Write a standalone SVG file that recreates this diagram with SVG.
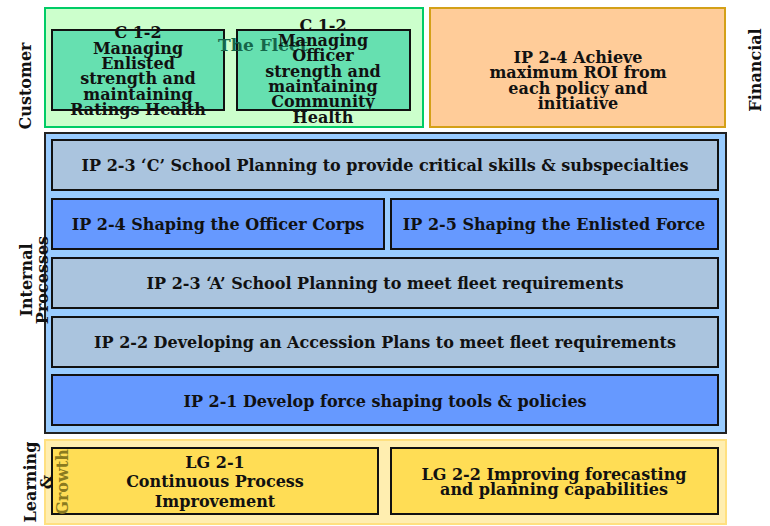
<svg xmlns="http://www.w3.org/2000/svg" width="770" height="526" viewBox="0 0 770 526">
<style>
text{font-family:"DejaVu Serif",serif;font-weight:bold;fill:#111;text-anchor:middle}
.t15{font-size:16px}
.t16{font-size:16px}
.lbl{font-size:16px}
.box{stroke:#111;stroke-width:2}
.lt{fill:#aac4de}
.bl{fill:#6699ff}
.gr{fill:#66e0b0}
.ye{fill:#ffdd55}
</style>
<rect width="770" height="526" fill="#fff"/>
<g id="customer">
<rect x="45" y="8" width="378" height="119" fill="#ccffcc" stroke="#00cc66" stroke-width="2"/>
<text x="31" y="86" class="lbl" transform="rotate(-90 31 86)">Customer</text>
</g>
<g id="c12-enlisted">
<rect class="box gr" x="52" y="30" width="172" height="80"/>
<text class="t16" x="138"><tspan x="138" y="38">C 1-2</tspan><tspan x="138" y="54">Managing</tspan><tspan x="138" y="69">Enlisted</tspan><tspan x="138" y="84">strength and</tspan><tspan x="138" y="100">maintaining</tspan><tspan x="138" y="115">Ratings Health</tspan></text>
</g>
<g id="c12-officer">
<rect class="box gr" x="237" y="30" width="173" height="80"/>
<text id="fleet-label" x="218" y="51" style="font-size:17px;text-anchor:start;fill:#16664a">The Fleet</text>
<text class="t16" x="323"><tspan x="323" y="31">C 1-2</tspan><tspan x="323" y="46">Managing</tspan><tspan x="323" y="61">Officer</tspan><tspan x="323" y="77">strength and</tspan><tspan x="323" y="92">maintaining</tspan><tspan x="323" y="107">Community</tspan><tspan x="323" y="123">Health</tspan></text>
</g>
<g id="financial">
<rect x="430" y="8" width="295" height="119" fill="#ffcc99" stroke="#d4a017" stroke-width="2"/>
<text class="t16" x="578"><tspan x="578" y="63">IP 2-4 Achieve</tspan><tspan x="578" y="78">maximum ROI from</tspan><tspan x="578" y="94">each policy and</tspan><tspan x="578" y="109">initiative</tspan></text>
<text x="761" y="70" class="lbl" transform="rotate(-90 761 70)">Financial</text>
</g>
<g id="internal">
<rect x="45" y="133" width="681" height="300" fill="#99ccff" stroke="#222" stroke-width="2"/>
<text class="lbl" transform="rotate(-90 32 280)"><tspan x="32" y="280">Internal</tspan><tspan x="32" y="296">Processes</tspan></text>
</g>
<g id="ip23c">
<rect class="box lt" x="52" y="140" width="666" height="50"/>
<text class="t15" x="385" y="171">IP 2-3 ‘C’ School Planning to provide critical skills &amp; subspecialties</text>
</g>
<g id="ip24">
<rect class="box bl" x="52" y="199" width="332" height="50"/>
<text class="t15" x="218" y="230">IP 2-4 Shaping the Officer Corps</text>
</g>
<g id="ip25">
<rect class="box bl" x="391" y="199" width="327" height="50"/>
<text class="t15" x="554" y="230">IP 2-5 Shaping the Enlisted Force</text>
</g>
<g id="ip23a">
<rect class="box lt" x="52" y="258" width="666" height="50"/>
<text class="t15" x="385" y="289">IP 2-3 ‘A’ School Planning to meet fleet requirements</text>
</g>
<g id="ip22">
<rect class="box lt" x="52" y="317" width="666" height="50"/>
<text class="t15" x="385" y="348">IP 2-2 Developing an Accession Plans to meet fleet requirements</text>
</g>
<g id="ip21">
<rect class="box bl" x="52" y="375" width="666" height="50"/>
<text class="t15" x="385" y="407">IP 2-1 Develop force shaping tools &amp; policies</text>
</g>
<g id="learning">
<rect x="45" y="440" width="681" height="84" fill="#ffeeb0" stroke="#ffe080" stroke-width="2"/>
</g>
<g id="lg21">
<rect class="box ye" x="52" y="448" width="326" height="66"/>
<text class="t16" x="215"><tspan x="215" y="468">LG 2-1</tspan><tspan x="215" y="487">Continuous Process</tspan><tspan x="215" y="507">Improvement</tspan></text>
</g>
<g id="lg22">
<rect class="box ye" x="391" y="448" width="327" height="66"/>
<text class="t16" x="554"><tspan x="554" y="480">LG 2-2 Improving forecasting</tspan><tspan x="554" y="495">and planning capabilities</tspan></text>
</g>
<g id="learning-label">
<text class="lbl" transform="rotate(-90 36 482)"><tspan x="36" y="482">Learning</tspan><tspan x="36" y="498">&amp;</tspan></text>
<text class="lbl" x="68" y="482" transform="rotate(-90 68 482)" style="fill:#8a7a20">Growth</text>
</g>
<g id="connectors"></g>
</svg>
